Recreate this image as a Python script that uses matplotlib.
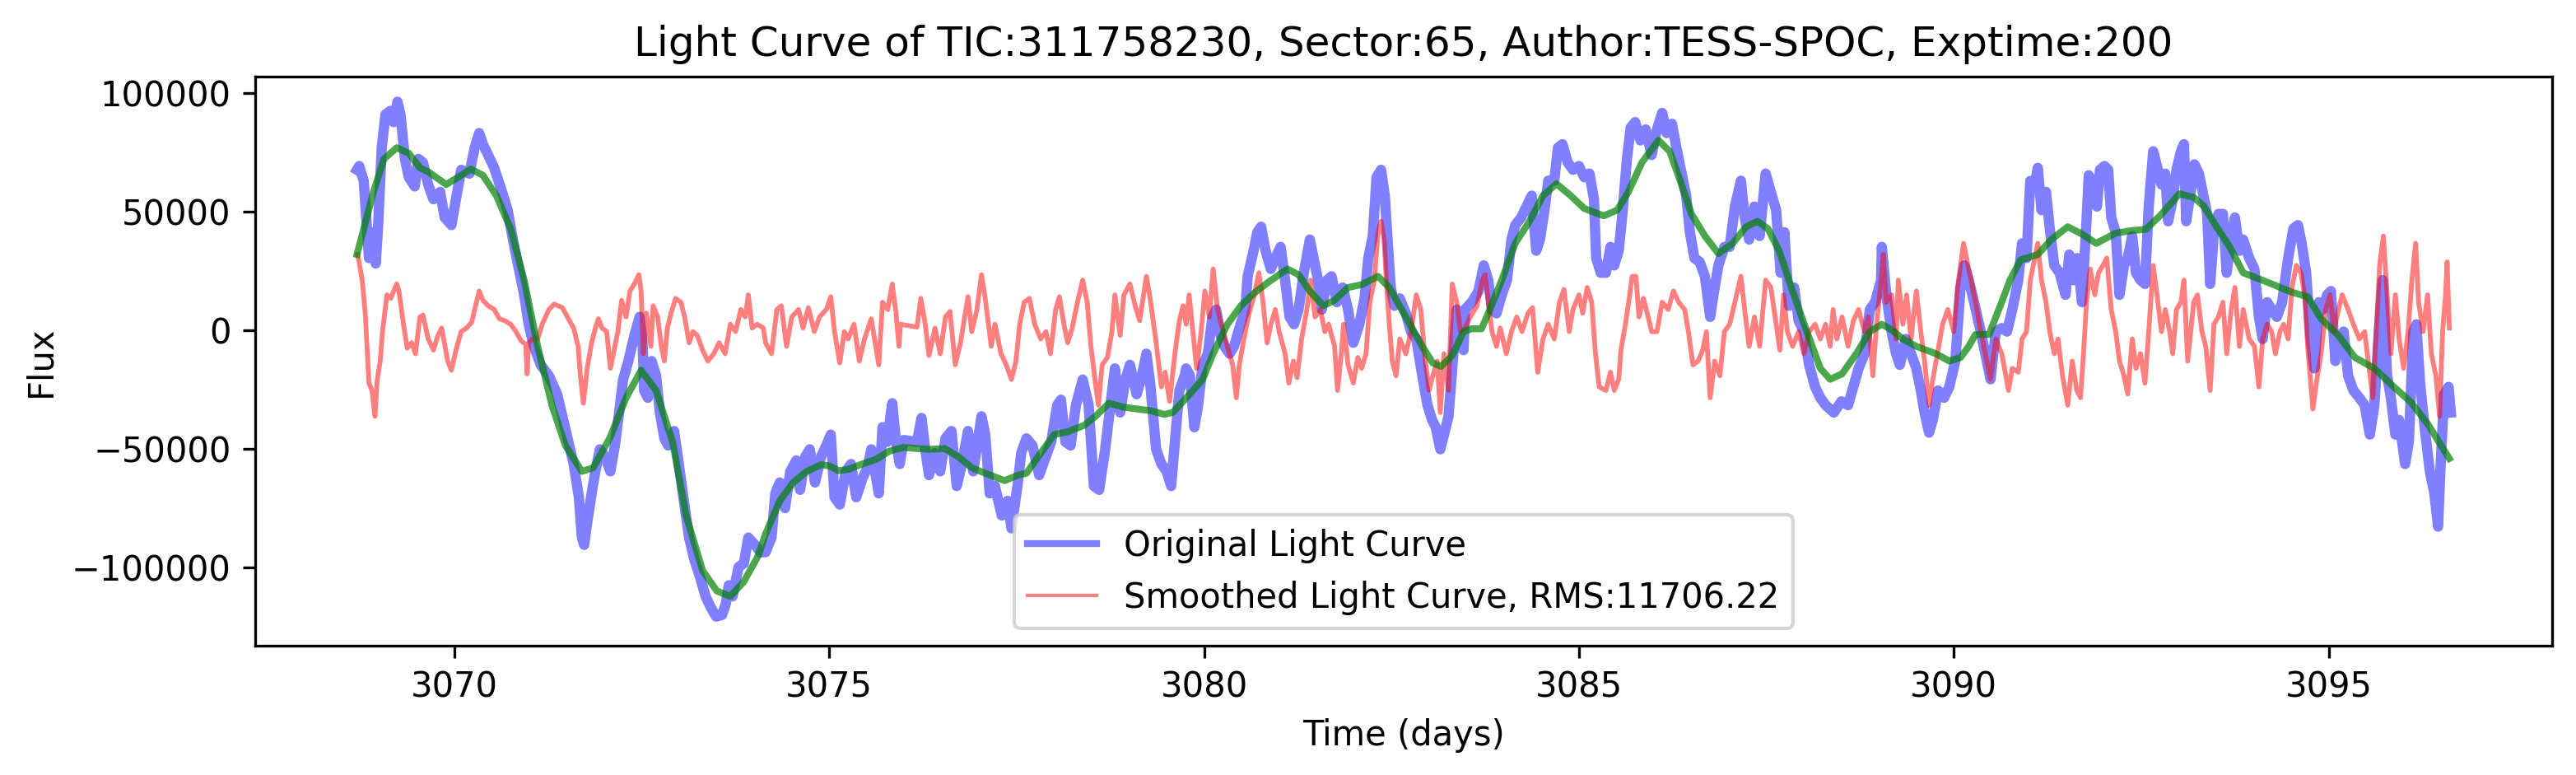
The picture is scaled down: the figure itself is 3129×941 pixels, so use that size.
import numpy as np
import matplotlib
matplotlib.use('Agg')
import matplotlib.pyplot as plt
from matplotlib.lines import Line2D

# values, flux in units of 1000
blue_time=[3068.70,3068.73,3068.79,3068.82,3068.86,3068.90,3068.95,3068.98,3069.03,3069.08,3069.14,3069.19,3069.24,3069.28,3069.34,3069.39,3069.47,3069.52,3069.58,3069.65,
           3069.72,3069.81,3069.87,3069.96,3070.02,3070.09,3070.20,3070.27,3070.33,3070.38,3070.45,3070.53,3070.62,3070.71,3070.78,3070.86,3070.93,3070.99,3071.06,3071.15,
           3071.26,3071.37,3071.44,3071.52,3071.59,3071.66,3071.70,3071.73,3071.77,3071.83,3071.88,3071.94,3072.01,3072.08,3072.14,3072.19,3072.25,3072.32,3072.40,3072.47,
           3072.51,3072.53,3072.58,3072.63,3072.69,3072.74,3072.80,3072.85,3072.93,3072.98,3073.06,3073.13,3073.20,3073.28,3073.35,3073.42,3073.49,3073.57,3073.62,3073.66,
           3073.71,3073.79,3073.86,3073.92,3074.01,3074.08,
           3074.15,3074.23,3074.28,3074.34,3074.41,3074.48,3074.56,3074.61,3074.68,3074.74,3074.81,3074.89,3074.96,3075.02,3075.07,3075.14,3075.22,3075.29,3075.36,3075.44,
           3075.51,3075.56,3075.66,3075.71,3075.77,3075.84,3075.89,3075.94,3075.99,3076.17,3076.23,3076.28,3076.33,3076.41,3076.48,3076.55,3076.63,3076.70,3076.77,3076.85,
           3076.92,3077.03,3077.08,3077.14,3077.21,3077.30,3077.38,3077.43,3077.51,3077.56,3077.63,3077.71,3077.80,3077.87,3077.96,3078.04,3078.09,3078.15,3078.22,3078.29,
           3078.38,3078.46,3078.53,3078.60,3078.68,3078.75,3078.81,3078.88,3078.95,3079.01,3079.10,3079.17,3079.23,3079.28,3079.36,3079.43,3079.50,3079.56,3079.61,3079.67,
           3079.74,
           3079.76,3079.81,3079.87,3079.92,3079.98,3080.05,3080.11,3080.16,3080.22,3080.27,3080.34,3080.40,3080.47,3080.55,3080.58,3080.66,3080.71,3080.76,3080.82,3080.89,
           3080.95,3081.02,3081.08,3081.14,3081.20,3081.26,3081.33,3081.41,3081.46,3081.52,3081.57,3081.64,3081.70,3081.77,3081.85,3081.92,3081.99,3082.07,3082.14,3082.19,
           3082.25,3082.30,3082.36,3082.41,3082.45,3082.49,3082.54,3082.61,3082.69,3082.76,3082.83,3082.91,3082.98,3083.04,3083.09,3083.15,3083.20,3083.26,3083.31,3083.37,
           3083.42,3083.46,3083.48,3083.57,3083.66,3083.73,3083.79,3083.84,3083.90,3083.97,3084.04,3084.10,3084.15,3084.23,3084.30,3084.37,3084.43,3084.48,3084.54,3084.59,
           3084.67,3084.72,3084.78,3084.85,3084.92,3085.00,3085.07,3085.14,3085.20,3085.23,3085.29,
           3085.36,3085.42,3085.47,3085.53,3085.58,3085.64,3085.69,3085.75,3085.82,3085.89,3085.97,3086.04,3086.11,3086.17,3086.24,3086.30,3086.35,3086.43,3086.48,3086.54,
           3086.61,3086.68,3086.75,3086.81,3086.86,3086.94,3087.01,3087.08,3087.16,3087.21,3087.27,3087.34,3087.41,3087.49,3087.56,3087.63,3087.69,3087.74,3087.80,3087.87,
           3087.93,3088.00,3088.07,3088.15,3088.22,3088.29,3088.40,3088.50,3088.59,3088.66,3088.73,3088.81,3088.88,3088.95,3089.03,3089.04,3089.10,3089.17,3089.23,3089.28,
           3089.36,3089.43,3089.50,3089.56,3089.61,3089.67,3089.72,3089.79,3089.87,3089.94,3090.02,3090.09,3090.14,3090.20,3090.27,3090.36,3090.44,3090.49,3090.56,3090.64,
           3090.71,3090.78,3090.86,3090.91,
           3090.97,3091.02,3091.08,3091.12,3091.17,3091.23,3091.28,3091.34,3091.41,3091.49,3091.54,3091.60,3091.65,3091.71,3091.77,3091.80,3091.86,3091.91,3091.95,3092.01,
           3092.06,3092.10,3092.16,3092.21,3092.27,3092.32,3092.38,3092.43,3092.49,3092.55,3092.60,3092.66,3092.71,3092.77,3092.82,3092.86,3092.92,3092.97,3093.03,3093.07,
           3093.10,3093.16,3093.21,3093.27,3093.33,3093.38,3093.42,3093.47,3093.53,3093.59,3093.64,3093.70,3093.75,3093.81,3093.86,3093.94,3094.01,3094.07,3094.12,3094.18,
           3094.24,3094.31,3094.38,3094.46,3094.53,3094.59,3094.64,3094.70,3094.76,3094.81,3094.87,3094.92,3094.98,3095.03,3095.09,3095.15,3095.20,3095.26,3095.33,3095.41,
           3095.48,3095.55,3095.61,3095.67,3095.72,3095.78,3095.83,3095.89,3095.94,3096.02,3096.07,3096.13,3096.17,3096.22,3096.28,3096.35,3096.41,3096.46,3096.49,3096.54,
           3096.60,3096.63]
blue_flux=[67.6,69.2,62.9,49.0,30.4,41.3,28.1,42.8,76.9,90.9,92.4,87.7,96.3,90.9,72.2,64.5,60.6,72.2,70.7,61.4,
           55.2,58.3,47.5,44.3,55.2,67.6,66.0,76.9,83.1,78.4,73.8,68.4,59.8,50.6,38.2,25.8,14.9,2.5,-6.8,-14.6,
           -19.2,-27.0,-36.3,-47.1,-56.4,-70.4,-87.4,-90.5,-81.2,-68.8,-59.5,-50.2,-53.3,-59.5,-48.6,-36.3,-20.8,-13.0,-2.2,5.6,
           -5.3,-25.4,-28.5,-13.0,-19.2,-34.7,-45.6,-48.6,-42.5,-53.3,-71.9,-87.4,-96.7,-104.5,-112.2,-116.9,-120.7,-120.0,-115.3,-107.5,
           -112.2,-99.8,-98.3,-87.4,-90.5,-93.6,
           -93.6,-87.4,-68.8,-64.2,-75.0,-59.5,-54.9,-67.3,-53.3,-50.2,-64.2,-53.3,-48.6,-44.0,-70.4,-73.5,-59.5,-56.4,-70.4,-62.6,
           -57.9,-50.2,-68.8,-40.9,-47.1,-30.8,-47.1,-56.4,-46.3,-47.1,-37.0,-50.2,-61.1,-51.8,-59.5,-45.6,-42.5,-65.7,-56.4,-42.5,
           -59.5,-36.3,-44.0,-68.8,-65.7,-78.1,-71.9,-83.5,-65.7,-51.8,-45.6,-48.6,-61.1,-54.9,-47.1,-31.6,-29.3,-47.1,-48.6,-31.6,
           -20.8,-31.6,-65.7,-67.3,-50.2,-31.6,-16.1,-34.7,-20.8,-14.6,-27.0,-19.2,-9.9,-22.3,-50.2,-56.4,-59.5,-65.7,-47.1,-25.4,
           -19.2,
           -16.1,-19.2,-40.9,-31.6,-14.6,-9.9,5.6,8.7,-2.2,-6.8,-9.9,-6.8,0.9,8.7,22.7,33.5,41.3,43.6,33.5,25.8,
           30.4,35.1,21.1,5.6,2.5,8.7,24.2,38.2,30.4,21.1,8.7,21.1,22.7,11.8,18.0,8.7,-5.3,2.5,13.4,30.4,
           39.7,64.5,67.6,56.7,36.6,18.0,10.3,13.4,7.2,-0.6,-3.7,-19.2,-31.6,-37.8,-40.9,-50.2,-44.0,-36.3,-16.1,8.7,
           -0.6,-8.4,8.7,11.8,16.5,27.3,21.1,8.7,7.1,14.9,21.1,38.2,44.3,47.5,52.1,56.7,33.5,38.2,50.6,63.0,
           63.0,76.9,78.4,70.7,67.6,69.2,64.5,66.0,55.2,30.4,24.2,
           24.2,35.1,27.3,33.5,49.0,72.2,85.4,87.7,80.0,84.6,73.8,84.6,91.6,83.1,87.0,76.9,69.2,56.7,41.3,30.4,
           28.8,22.7,5.6,18.0,27.3,35.1,35.1,52.1,63.0,47.5,38.2,52.1,39.7,66.0,58.3,50.6,24.2,41.3,10.3,18.0,
           4.0,-0.6,-14.6,-23.9,-28.5,-31.6,-34.7,-30.0,-31.6,-23.9,-16.1,-9.9,8.7,11.8,21.1,35.1,14.9,-0.6,-9.9,-14.6,
           -3.7,-9.9,-16.1,-25.4,-34.7,-43.2,-37.8,-25.4,-28.5,-23.9,-13.0,18.0,27.3,21.1,11.8,-0.6,-13.0,-20.7,-0.6,0.9,
           -0.6,8.7,21.1,36.6,
           30.4,62.9,61.4,68.4,50.6,58.3,42.8,27.3,24.2,14.9,31.9,21.1,30.4,11.8,45.9,65.3,61.4,52.1,67.6,69.2,
           67.6,47.5,41.3,14.9,27.3,30.4,39.7,24.2,21.1,19.5,52.1,75.4,69.2,61.4,66.0,45.9,55.2,67.6,75.4,78.4,
           45.9,58.3,69.9,66.0,56.7,49.0,19.5,41.3,49.0,49.0,24.2,39.7,47.5,33.5,38.2,30.4,25.8,5.6,-3.7,11.8,
           8.7,5.6,11.8,30.4,42.8,44.3,36.6,24.2,-3.7,-16.1,11.8,8.7,14.9,16.5,-13.0,-3.7,-0.6,-19.2,-25.4,-28.5,
           -31.6,-44.0,-31.6,-0.6,21.1,-19.2,-28.5,-44.0,-37.8,-56.4,-47.1,-0.6,2.5,-22.3,-40.9,-59.5,-68.8,-82.8,-59.5,-27.0,
           -23.9,-34.7]

red_time=[3068.71,3068.77,3068.81,3068.86,3068.90,3068.94,3068.97,3069.01,3069.04,3069.10,3069.15,3069.23,3069.26,3069.32,3069.37,3069.43,3069.48,3069.54,3069.58,3069.65,
          3069.72,3069.78,3069.83,3069.91,3069.96,3070.02,3070.09,3070.16,3070.23,3070.27,3070.33,3070.38,3070.45,3070.53,3070.60,3070.67,3070.75,3070.82,3070.89,3070.95,
          3070.97,3070.99,3071.04,3071.11,3071.17,3071.26,3071.33,3071.44,3071.52,3071.59,3071.65,3071.68,3071.72,3071.77,3071.83,3071.88,3071.92,3071.97,3072.03,3072.08,
          3072.12,3072.18,3072.23,3072.29,3072.34,3072.40,3072.46,3072.49,3072.52,3072.56,3072.62,3072.65,3072.71,3072.76,3072.80,3072.84,3072.89,3072.95,3073.02,3073.07,
          3073.13,3073.18,3073.24,3073.31,3073.38,3073.46,3073.53,3073.61,3073.68,3073.75,3073.82,3073.88,3073.92,3073.97,3074.04,3074.12,
          3074.15,3074.23,3074.30,3074.36,3074.43,3074.50,3074.59,3074.65,3074.72,3074.80,3074.87,3074.96,3075.02,3075.07,3075.14,3075.20,3075.25,3075.33,3075.40,3075.47,
          3075.56,3075.66,3075.71,3075.78,3075.84,3075.89,3075.93,3075.95,3076.17,3076.22,3076.28,3076.33,3076.41,3076.48,3076.55,3076.61,3076.68,3076.75,3076.85,3076.90,
          3076.97,3077.03,3077.08,3077.16,3077.21,3077.29,3077.36,3077.43,3077.49,3077.54,3077.60,3077.67,3077.74,3077.82,3077.89,3077.95,3078.02,3078.07,3078.13,3078.18,
          3078.24,3078.31,3078.38,3078.44,3078.49,3078.55,3078.59,3078.64,3078.71,3078.77,3078.81,3078.88,3078.93,3079.01,3079.08,3079.14,3079.23,3079.28,3079.36,3079.43,
          3079.48,3079.54,3079.61,3079.67,3079.72,
          3079.76,3079.80,3079.85,3079.90,3079.96,3080.01,3080.07,3080.12,3080.18,3080.23,3080.31,3080.38,3080.43,3080.47,3080.53,3080.60,3080.67,3080.73,3080.78,3080.84,
          3080.89,3080.95,3081.00,3081.08,3081.13,3081.19,3081.24,3081.30,3081.37,3081.42,3081.48,3081.55,3081.61,3081.66,3081.74,3081.78,3081.83,3081.86,3081.92,3081.99,
          3082.05,3082.10,3082.16,3082.21,3082.27,3082.32,3082.36,3082.40,3082.43,3082.47,3082.51,3082.56,3082.61,3082.69,3082.76,3082.83,3082.89,3082.94,3083.00,3083.05,
          3083.11,3083.15,3083.20,3083.26,3083.31,3083.37,3083.42,3083.48,3083.55,3083.64,3083.71,3083.75,3083.79,3083.84,3083.90,3083.95,3084.03,3084.10,3084.17,3084.24,
          3084.32,3084.38,3084.45,3084.52,3084.59,3084.67,3084.74,3084.80,3084.87,3084.92,3085.00,3085.05,3085.11,3085.17,3085.22,3085.27,
          3085.36,3085.42,3085.47,3085.53,3085.56,3085.62,3085.67,3085.71,3085.76,3085.80,3085.86,3085.91,3085.97,3086.04,3086.11,3086.19,3086.26,3086.33,3086.41,3086.46,
          3086.52,3086.59,3086.65,3086.70,3086.75,3086.81,3086.88,3086.94,3087.01,3087.08,3087.16,3087.21,3087.27,3087.34,3087.41,3087.49,3087.56,3087.63,3087.68,3087.73,
          3087.78,3087.85,3087.93,3088.00,3088.07,3088.15,3088.22,3088.29,3088.35,3088.39,3088.44,3088.51,3088.59,3088.66,3088.73,3088.81,3088.86,3088.92,3088.97,3089.03,
          3089.06,3089.10,3089.17,3089.23,3089.26,3089.32,3089.37,3089.43,3089.50,3089.56,3089.61,3089.67,3089.72,3089.79,3089.85,3089.92,3090.00,3090.05,3090.13,3090.18,
          3090.23,3090.29,3090.36,3090.44,3090.49,3090.56,3090.64,3090.73,3090.78,3090.86,3090.91,
          3090.97,3091.02,3091.08,3091.12,3091.17,3091.23,3091.28,3091.34,3091.39,3091.45,3091.52,3091.58,3091.64,3091.69,3091.73,3091.77,3091.82,3091.88,3091.93,3091.99,
          3092.04,3092.10,3092.16,3092.21,3092.27,3092.32,3092.38,3092.43,3092.49,3092.55,3092.60,3092.66,3092.71,3092.77,3092.82,3092.88,3092.92,3092.97,3093.03,3093.07,
          3093.12,3093.20,3093.25,3093.31,3093.36,3093.42,3093.47,3093.53,3093.59,3093.64,3093.70,3093.75,3093.81,3093.86,3093.94,3094.01,3094.07,3094.12,3094.18,3094.24,
          3094.29,3094.35,3094.40,3094.46,3094.51,3094.57,3094.63,3094.68,3094.72,3094.77,3094.79,3094.85,3094.90,3094.96,3095.02,3095.07,3095.13,3095.18,3095.26,3095.33,
          3095.41,3095.48,3095.54,3095.59,3095.65,3095.68,3095.73,3095.78,3095.83,3095.89,3095.94,3096.00,3096.06,3096.11,3096.16,3096.20,3096.26,3096.32,3096.37,3096.43,
          3096.48,3096.52,3096.56,3096.58,3096.61]
red_flux=[31.9,21.1,7.2,-22.3,-25.4,-36.3,-20.8,-13.0,-0.6,14.9,13.4,19.5,16.5,2.5,-7.6,-5.3,-9.9,5.6,6.4,-3.7,
          -8.4,-2.2,0.9,-13.0,-16.9,-8.4,-0.6,0.9,3.3,8.7,16.5,12.6,10.3,8.7,4.8,4.0,2.5,-0.6,-4.5,-6.0,
          -18.4,-5.3,-3.7,-3.7,2.5,8.7,11.0,9.5,4.8,0.9,-6.8,-19.2,-30.8,-16.1,-5.3,0.9,4.8,0.9,-0.6,-16.1,
          -9.9,-0.6,12.6,5.6,16.5,19.5,23.4,16.5,-9.9,7.2,-6.8,10.3,5.6,-6.8,-13.0,0.9,7.2,13.4,11.8,5.6,
          -5.3,-0.6,-2.2,-8.4,-13.0,-9.9,-5.3,-9.9,2.5,-0.6,8.7,5.6,14.9,0.9,2.5,0.9,
          -5.3,-9.9,8.7,10.3,-6.8,5.6,8.7,0.9,9.5,-0.6,5.6,8.7,14.1,-0.6,-13.8,-0.6,-3.7,2.5,-13.0,-3.7,
          4.8,-14.6,11.8,8.7,19.5,7.2,-6.8,2.5,1.3,13.4,2.5,-10.7,0.9,-9.9,5.6,7.9,-14.6,-5.3,14.1,-0.6,
          8.7,23.4,13.4,-6.8,2.5,-9.9,-14.6,-20.8,-13.0,2.5,11.8,13.4,2.5,-3.7,-0.6,-9.9,8.7,14.1,2.5,-5.3,
          0.9,11.8,21.1,11.8,-6.8,-22.3,-31.6,-14.6,-11.5,-0.6,14.9,-2.2,14.9,19.5,10.3,4.0,22.7,13.4,-5.3,-23.9,
          -17.7,-30.0,-9.9,4.0,10.3,
          2.5,14.9,-0.6,-16.1,-0.6,16.5,5.6,25.8,8.7,2.5,-6.8,-14.6,-28.5,-14.6,-3.7,7.2,14.9,24.2,13.4,-5.3,
          2.5,8.7,-0.6,-9.9,-22.3,-13.0,-20.0,-3.7,8.7,21.1,5.6,8.7,-0.6,2.5,-6.8,-25.4,-9.9,2.5,-14.6,-22.3,
          -11.5,-16.1,-9.9,11.8,21.1,41.3,45.9,38.2,21.1,2.5,-13.0,-19.2,-3.7,-9.9,-0.6,14.9,8.7,-9.9,-25.4,-19.2,
          -13.0,-34.7,-9.9,-25.4,19.5,11.8,-0.6,1.0,5.6,10.3,21.1,23.4,11.8,-0.6,-6.8,0.9,-9.9,-0.6,5.6,-0.6,
          7.2,9.5,-17.7,-3.7,2.5,-3.7,11.8,17.2,-0.6,8.7,14.9,7.2,18.0,11.8,-9.9,-23.9,
          -25.4,-17.7,-25.4,-20.7,-8.4,2.5,13.4,22.7,22.7,5.6,13.4,7.2,-0.6,-0.6,11.8,8.7,16.5,11.8,8.7,-0.6,
          -14.6,-13.0,-8.4,-0.6,-28.5,-13.0,-19.2,-0.6,2.5,11.8,22.7,8.7,-6.8,5.6,-6.8,21.1,18.0,2.5,-8.4,14.9,
          -0.6,-6.8,-0.6,-9.9,-0.6,2.5,-3.7,2.5,-6.8,8.7,-3.7,5.6,-6.8,4.0,8.7,-0.6,5.6,-19.2,2.5,21.1,
          31.9,11.8,14.9,-3.7,21.1,2.5,14.9,-3.7,16.5,-0.6,-13.0,-31.6,-20.7,-8.4,2.5,8.7,-0.6,18.0,36.6,28.8,
          21.1,11.8,-0.6,-13.0,-20.7,-3.7,-9.9,-25.4,-16.1,-17.7,-3.7,
          -0.6,21.1,30.4,36.6,21.1,11.8,-0.6,-9.9,-3.7,-19.2,-31.6,-13.0,-25.4,-28.5,-9.9,11.8,25.8,14.9,24.2,27.3,
          30.4,8.7,-0.6,-13.0,-19.2,-26.9,-3.7,-16.1,-9.9,-22.3,-0.6,27.3,14.9,-0.6,8.7,-0.6,-9.9,8.7,11.8,21.1,
          -13.0,11.8,14.9,-0.6,-6.8,-25.4,2.5,5.6,11.8,-9.9,8.7,18.0,-6.8,8.7,-3.7,-6.8,-23.9,-3.7,2.5,-0.6,
          -9.9,-0.6,2.5,-3.7,18.0,27.3,24.2,14.9,-6.8,-25.4,-33.2,-19.2,-9.9,8.7,14.9,-0.6,8.7,14.9,8.7,2.5,
          -3.7,-0.6,-16.1,-28.5,8.7,27.3,39.7,14.9,-9.9,14.9,-3.7,-16.1,-0.6,21.1,36.6,11.8,-0.6,14.9,-9.9,-19.2,
          -36.3,-0.6,14.9,28.8,0.9]

green_time=[3068.70,3068.92,3069.06,3069.23,3069.39,3069.54,3069.65,3069.89,3070.05,3070.22,3070.38,3070.56,3070.75,3070.93,3071.11,3071.30,3071.48,3071.70,3071.85,3072.07,
            3072.29,3072.49,3072.69,3072.91,3073.09,3073.31,3073.50,3073.68,3073.86,3074.05,3074.15,3074.34,3074.52,3074.70,3074.89,3075.00,3075.12,3075.25,3075.44,3075.62,
            3075.80,3075.99,3076.17,3076.35,3076.54,3076.72,3076.90,3077.08,3077.27,3077.34,3077.52,3077.63,3077.82,3078.00,3078.18,3078.40,3078.55,3078.73,3078.92,3079.10,
            3079.28,3079.47,3079.58,3079.72,3079.98,3080.12,3080.31,3080.49,3080.67,3080.86,3080.97,3081.11,3081.26,3081.41,3081.59,3081.74,3081.92,3082.10,3082.32,3082.47,
            3082.69,3082.91,3083.05,3083.16,3083.31,3083.46,3083.57,3083.70,3083.79,3083.97,3084.15,3084.34,3084.52,3084.70,3084.89,3085.07,3085.33,3085.51,3085.66,3085.84,
            3086.06,3086.21,3086.35,3086.50,3086.68,3086.86,3087.05,3087.23,3087.38,3087.52,3087.67,3087.85,3088.04,3088.22,3088.35,3088.51,3088.70,3088.88,3089.04,3089.17,
            3089.32,3089.50,3089.76,3089.94,3090.09,3090.20,3090.29,3090.47,3090.60,3090.75,3090.89,3091.12,3091.30,3091.52,3091.71,3091.90,3092.16,3092.38,3092.56,3092.75,
            3093.01,3093.20,3093.34,3093.49,3093.68,3093.86,3094.05,3094.24,3094.50,3094.72,3094.90,3095.13,3095.35,3095.61,3095.87,3096.09,3096.32,3096.50,3096.61]
green_flux=[31.9,58.3,72.2,76.9,74.6,68.4,66.8,61.4,64.5,67.9,65.3,56.7,42.8,21.1,-6.8,-31.6,-48.6,-59.5,-58.0,-45.6,
            -28.5,-16.9,-25.4,-47.1,-78.1,-101.3,-109.9,-112.2,-106.0,-95.2,-85.9,-71.9,-64.2,-59.5,-56.7,-57.2,-59.2,-58.7,-56.4,-54.5,
            -51.0,-49.4,-49.9,-50.2,-49.9,-53.3,-58.0,-60.3,-62.6,-63.4,-61.1,-60.3,-51.8,-44.0,-42.8,-40.1,-36.3,-30.8,-32.4,-33.2,
            -33.9,-35.5,-34.7,-30.0,-20.8,-9.9,2.5,10.3,15.7,20.3,22.7,25.8,23.4,16.5,10.3,12.6,18.0,19.2,22.7,18.0,
            5.6,-6.8,-13.8,-15.3,-10.7,-0.6,0.6,0.6,7.1,21.1,36.6,45.9,56.7,61.7,56.7,51.3,48.2,50.6,58.3,70.7,
            80.0,75.4,63.0,49.0,39.7,32.3,36.6,43.6,45.9,42.8,33.5,16.5,-0.6,-16.1,-20.7,-18.4,-9.9,-0.6,2.5,0.2,
            -3.7,-6.8,-9.9,-13.0,-11.5,-6.8,-1.8,-1.8,8.7,21.1,29.6,31.9,38.2,43.6,40.5,36.6,40.9,42.0,42.5,48.2,
            57.5,56.0,52.1,44.3,35.1,24.2,21.9,19.5,16.1,14.1,4.8,-2.2,-11.5,-16.1,-23.9,-30.1,-39.4,-48.6,-54.1]

fig,ax=plt.subplots(figsize=(3129/300,941/300),dpi=300)
fig.subplots_adjust(left=0.099,right=0.9907,bottom=0.1668,top=0.9012)

# the real curves are full of fine jitter, so draw them a bit heavier than the legend keys
ax.plot(blue_time,np.array(blue_flux)*1000,color='b',alpha=0.5,lw=3)
ax.plot(red_time,np.array(red_flux)*1000,color='r',alpha=0.5,lw=1.4)
ax.plot(green_time,np.array(green_flux)*1000,color='g',alpha=0.7,lw=2)

ax.set_xlim(3067.34,3097.98)
ax.set_ylim(-133000,106900)
ax.set_xlabel('Time (days)')
ax.set_ylabel('Flux')
ax.set_title('Light Curve of TIC:311758230, Sector:65, Author:TESS-SPOC, Exptime:200')

handles=[Line2D([],[],color='b',alpha=0.5,lw=2),Line2D([],[],color='r',alpha=0.5,lw=1)]
ax.legend(handles,['Original Light Curve','Smoothed Light Curve, RMS:11706.22'],loc='lower center')

fig.savefig('out.png',dpi=300)
